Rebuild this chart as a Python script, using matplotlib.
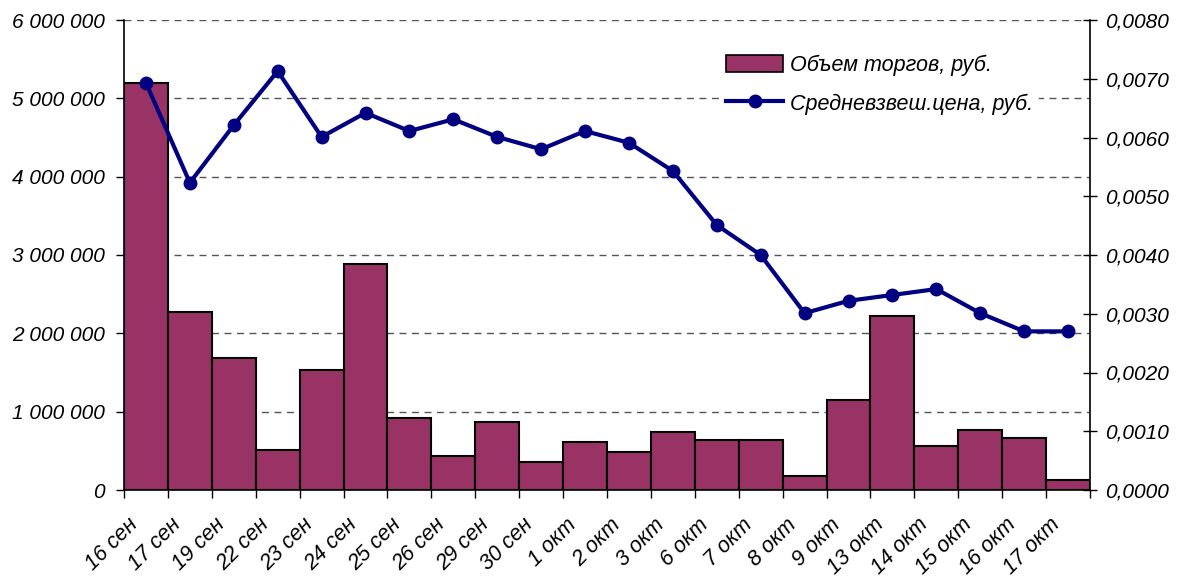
import matplotlib
matplotlib.use("Agg")
import matplotlib.pyplot as plt
from matplotlib.ticker import FuncFormatter, FixedLocator, MultipleLocator, NullFormatter
from matplotlib.transforms import ScaledTranslation, blended_transform_factory
from matplotlib.patches import Patch
from matplotlib.lines import Line2D

categories = ["16 сен", "17 сен", "19 сен", "22 сен", "23 сен", "24 сен", "25 сен",
              "26 сен", "29 сен", "30 сен", "1 окт", "2 окт", "3 окт", "6 окт",
              "7 окт", "8 окт", "9 окт", "13 окт", "14 окт", "15 окт", "16 окт", "17 окт"]
volume = [5200000, 2270000, 1685000, 510000, 1530000, 2885000, 920000,
          434000, 868000, 357000, 610000, 485000, 740000, 640000,
          640000, 180000, 1150000, 2220000, 560000, 770000, 660000, 130000]
price = [0.00693, 0.00523, 0.00621, 0.00713, 0.00601, 0.00642, 0.00611,
         0.00631, 0.00601, 0.00580, 0.00611, 0.00591, 0.00543, 0.00451,
         0.00400, 0.00301, 0.00322, 0.00332, 0.00342, 0.00301, 0.00270, 0.00270]

bar_color = "#993366"
line_color = "#000080"
font = "Liberation Sans"
plt.rcParams['font.family'] = [font, 'DejaVu Sans']

fig = plt.figure(figsize=(11.83, 5.77), dpi=100)
ax = fig.add_axes([124/1183, 1-490/577, (1090-124)/1183, (490-20)/577])
n = len(categories)
x = list(range(n))
ax.bar(x, volume, width=1.0, color=bar_color, edgecolor="black", linewidth=1.5, zorder=2)
ax.set_xlim(-0.5, n - 0.5)
ax.set_ylim(0, 6000000)
ax.yaxis.set_major_locator(MultipleLocator(1000000))
ax.yaxis.set_major_formatter(FuncFormatter(lambda v, p: f"{int(v):,}".replace(",", " ")))
ax.grid(axis="y", linestyle=(0, (5, 4)), color="#555555", linewidth=1.0, zorder=0)
ax.set_axisbelow(True)

ax.xaxis.set_major_locator(FixedLocator([i - 0.5 for i in range(n + 1)]))
ax.xaxis.set_major_formatter(NullFormatter())
ax.tick_params(axis="x", which="major", length=6, width=1, direction="out")
ax.tick_params(axis="y", length=6, width=1, direction="out", labelsize=15, pad=8)
for lbl in ax.get_yticklabels():
    lbl.set_fontstyle("italic")

# category labels, rotated, anchored under each category
lab_tr = blended_transform_factory(ax.transData, ax.transAxes) + \
    ScaledTranslation(-19/100, -24/100, fig.dpi_scale_trans)
for i, c in enumerate(categories):
    ax.text(i, 0, c, transform=lab_tr, rotation=45, ha="right", va="top",
            rotation_mode="anchor", fontsize=15.5, fontstyle="italic")

ax.spines["top"].set_visible(False)
ax.spines["right"].set_visible(False)
for s in ("left", "bottom"):
    ax.spines[s].set_linewidth(1.2)

ax2 = ax.twinx()
ax2.plot(x, price, color=line_color, linewidth=3, marker="o", markersize=9, zorder=3)
ax2.set_ylim(0, 0.008)
ax2.yaxis.set_major_locator(MultipleLocator(0.001))
ax2.yaxis.set_major_formatter(FuncFormatter(lambda v, p: f"{v:.4f}".replace(".", ",")))
ax2.tick_params(axis="y", length=10, width=1, direction="inout", labelsize=15, pad=6)
for lbl in ax2.get_yticklabels():
    lbl.set_fontstyle("italic")
ax2.spines["top"].set_visible(False)
ax2.spines["left"].set_visible(False)
ax2.spines["bottom"].set_visible(False)
ax2.spines["right"].set_linewidth(1.2)

handles = [Patch(facecolor=bar_color, edgecolor="black", linewidth=1.2),
           Line2D([0], [0], color=line_color, linewidth=3, marker="o", markersize=9)]
labels = ["Объем торгов, руб.", "Средневзвеш.цена, руб."]
leg = ax2.legend(handles, labels, loc="upper left", bbox_to_anchor=(0.6056, 0.963),
                 frameon=True, facecolor="white", edgecolor="none", framealpha=1.0,
                 fancybox=False, borderpad=0.3,
                 prop={"family": font, "style": "italic", "size": 15.5},
                 handlelength=2.65, handleheight=0.9, labelspacing=0.8, handletextpad=0.3)

fig.savefig("out.png", dpi=100)
